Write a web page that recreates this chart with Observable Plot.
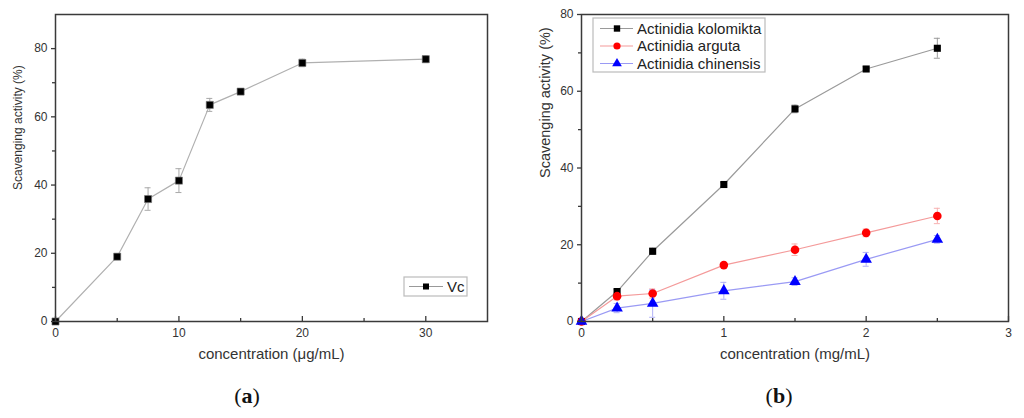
<!DOCTYPE html>
<html>
<head>
<meta charset="utf-8">
<script src="https://cdn.jsdelivr.net/npm/d3@7"></script>
<script src="https://cdn.jsdelivr.net/npm/@observablehq/plot@0.6"></script>
<style>
  html, body { margin: 0; padding: 0; background: #fff; }
  #wrap { position: relative; width: 1024px; height: 418px; overflow: hidden; font-family: "Liberation Sans", Arial, sans-serif; }
  .panel { position: absolute; top: 0; }
  .cap { position: absolute; top: 383px; width: 60px; margin-left: -30px; text-align: center; font-family: "Liberation Serif", "Times New Roman", serif; font-size: 22px; color: #111; }
  .cap b { font-weight: bold; }
</style>
</head>
<body>
<div id="wrap">
  <div id="pa" class="panel" style="left:0px"></div>
  <div id="pb" class="panel" style="left:512px"></div>
  <div class="cap" style="left:247px">(<b>a</b>)</div>
  <div class="cap" style="left:779px">(<b>b</b>)</div>
</div>
<script>
// ---- Panel (a): Vc ----
const vcConc = [0, 5, 7.5, 10, 12.5, 15, 20, 30];
const vcAct  = [0, 19.0, 35.9, 41.3, 63.5, 67.4, 75.8, 76.9];
const vcErr  = [0, 0.5, 3.3, 3.5, 1.9, 0.6, 1.1, 1.0];
const aXMajor = [0, 10, 20, 30];
const aXMinor = [5, 15, 25];
const aYMajor = [0, 20, 40, 60, 80];
const aYMinor = [10, 30, 50, 70];

// ---- Panel (b): Actinidia extracts ----
const bConc = [0, 0.25, 0.5, 1, 1.5, 2, 2.5];
const kolomikta    = [0, 7.8, 18.3, 35.7, 55.4, 65.8, 71.2];
const kolomiktaErr = [0, 0.6, 0.8, 0.5, 1.0, 0.6, 2.6];
const arguta       = [0, 6.6, 7.3, 14.7, 18.7, 23.1, 27.5];
const argutaErr    = [0, 1.0, 1.2, 0.6, 1.5, 1.0, 2.0];
const chinensis    = [0, 3.5, 4.7, 8.0, 10.4, 16.2, 21.4];
const chinensisErr = [0, 1.2, 3.6, 2.2, 1.0, 1.8, 1.0];
const bXMajor = [0, 1, 2, 3];
const bXMinor = [0.5, 1.5, 2.5];
const bYMajor = [0, 20, 40, 60, 80];
const bYMinor = [10, 30, 50, 70];

const seriesNames = ["Actinidia kolomikta", "Actinidia arguta", "Actinidia chinensis"];
const seriesVals = [kolomikta, arguta, chinensis];
const seriesErrs = [kolomiktaErr, argutaErr, chinensisErr];
const markerColors = ["#000000", "#ff0000", "#0000ff"];
const lineColors = ["#9a9a9a", "#f49a9a", "#9a9af4"];
const errColors = ["#9a9a9a", "#f7b0b0", "#b0b0f7"];
const symbols = ["square", "circle", "triangle"];

const W = 512, H = 375, MT = 14, MB = 54;
const FH = H - MT - MB;
const axisColor = "#3a3a3a";
const textColor = "#333";
const fmt = d => String(d);

function tickMarks(major, minor) {
  return [
    Plot.ruleX(major, {x: d => d, insetTop: FH - 5, stroke: axisColor, strokeWidth: 1.3}),
    Plot.ruleX(minor, {x: d => d, insetTop: FH - 3, stroke: axisColor, strokeWidth: 1.3})
  ];
}

function errorMarks(rows, color) {
  const r = rows.filter(d => d.e > 0);
  return [
    Plot.ruleX(r, {x: "x", y1: d => d.y - d.e, y2: d => d.y + d.e, stroke: color, strokeWidth: 1}),
    Plot.ruleY(r, {y: d => d.y + d.e, x1: "x", x2: "x", insetLeft: -3, insetRight: -3, stroke: color, strokeWidth: 1}),
    Plot.ruleY(r, {y: d => d.y - d.e, x1: "x", x2: "x", insetLeft: -3, insetRight: -3, stroke: color, strokeWidth: 1})
  ];
}

// Panel a
const aRows = vcConc.map((x, i) => ({x, y: vcAct[i], e: vcErr[i]}));
const plotA = Plot.plot({
  width: W, height: H,
  marginLeft: 55, marginRight: 25, marginTop: MT, marginBottom: MB,
  style: {fontFamily: "'Liberation Sans', Arial, sans-serif", color: textColor, background: "#fff"},
  x: {domain: [0, 35]},
  y: {domain: [0, 90]},
  marks: [
    ...errorMarks(aRows, "#a8a8a8"),
    Plot.line(aRows, {x: "x", y: "y", stroke: "#b0b0b0", strokeWidth: 1.2}),
    Plot.dot(aRows, {x: "x", y: "y", symbol: "square", r: 4, fill: "#000", stroke: "#777", strokeWidth: 0.6}),
    Plot.axisX({ticks: aXMajor, tickFormat: fmt, tickSize: 0, tickPadding: 7, fontSize: 12, label: null}),
    ...tickMarks(aXMajor, aXMinor),
    Plot.axisY({ticks: aYMajor, tickFormat: fmt, tickSize: 4, tickPadding: 4, fontSize: 12, label: null, stroke: axisColor, strokeWidth: 1.3}),
    Plot.axisY({ticks: aYMinor, tickSize: 3, tickFormat: () => "", label: null, stroke: axisColor, strokeWidth: 1.3}),
    Plot.frame({stroke: axisColor, strokeWidth: 1.5}),
    Plot.text(["concentration (μg/mL)"], {frameAnchor: "bottom", dy: 37, text: d => d, fontSize: 15, fill: textColor}),
    Plot.text(["Scavenging activity (%)"], {frameAnchor: "left", dx: -37, dy: 22, rotate: -90, text: d => d, fontSize: 12, fill: textColor})
  ]
});
document.getElementById("pa").appendChild(plotA);

// Panel b
const bRows = seriesNames.map((name, s) => bConc.map((x, i) => ({name, s, x, y: seriesVals[s][i], e: seriesErrs[s][i]})));
const bMarks = [];
bRows.forEach((rows, s) => { bMarks.push(...errorMarks(rows, errColors[s])); });
bRows.forEach((rows, s) => { bMarks.push(Plot.line(rows, {x: "x", y: "y", stroke: lineColors[s], strokeWidth: 1.2})); });
bRows.forEach((rows, s) => {
  bMarks.push(Plot.dot(rows, {x: "x", y: "y", symbol: symbols[s], r: s === 0 ? 4 : 4.3, fill: markerColors[s], stroke: "none"}));
});
const plotB = Plot.plot({
  width: W, height: H,
  marginLeft: 69, marginRight: 16, marginTop: MT, marginBottom: MB,
  style: {fontFamily: "'Liberation Sans', Arial, sans-serif", color: textColor, background: "#fff"},
  x: {domain: [0, 3]},
  y: {domain: [0, 80]},
  marks: [
    ...bMarks,
    Plot.axisX({ticks: bXMajor, tickFormat: fmt, tickSize: 0, tickPadding: 7, fontSize: 12, label: null}),
    ...tickMarks(bXMajor, bXMinor),
    Plot.axisY({ticks: bYMajor, tickFormat: fmt, tickSize: 4, tickPadding: 4, fontSize: 12, label: null, stroke: axisColor, strokeWidth: 1.3}),
    Plot.axisY({ticks: bYMinor, tickSize: 3, tickFormat: () => "", label: null, stroke: axisColor, strokeWidth: 1.3}),
    Plot.frame({stroke: axisColor, strokeWidth: 1.5}),
    Plot.text(["concentration (mg/mL)"], {frameAnchor: "bottom", dy: 37, text: d => d, fontSize: 15, fill: textColor}),
    Plot.text(["Scavenging activity (%)"], {frameAnchor: "left", dx: -36, dy: 10, rotate: -90, text: d => d, fontSize: 14.5, fill: textColor})
  ]
});
document.getElementById("pb").appendChild(plotB);

// Legends (drawn into the SVGs)
function legend(svgEl, box, items) {
  const g = d3.select(svgEl).append("g").attr("text-anchor", "start");
  g.append("rect").attr("x", box.x).attr("y", box.y).attr("width", box.w).attr("height", box.h)
    .attr("fill", "#fff").attr("stroke", "#bbb").attr("stroke-width", 1.2);
  items.forEach((it, i) => {
    const cy = box.y + box.first + i * box.step;
    g.append("line").attr("x1", box.lx1).attr("x2", box.lx2).attr("y1", cy).attr("y2", cy)
      .attr("stroke", it.line).attr("stroke-width", 1.2);
    const sym = {square: d3.symbolSquare, circle: d3.symbolCircle, triangle: d3.symbolTriangle}[it.symbol];
    g.append("path").attr("d", d3.symbol(sym, Math.PI * it.r * it.r)())
      .attr("transform", `translate(${box.mx},${cy})`).attr("fill", it.fill);
    g.append("text").attr("x", box.tx).attr("y", cy).attr("dy", "0.35em").attr("text-anchor", "start")
      .attr("font-size", 15).attr("fill", "#222").text(it.label);
  });
}
legend(plotA, {x: 404, y: 277, w: 63, h: 19, first: 9.5, step: 0, lx1: 409, lx2: 443, mx: 426, tx: 447},
  [{label: "Vc", line: "#999", fill: "#000", symbol: "square", r: 3.4}]);
legend(plotB, {x: 81, y: 18, w: 172, h: 54, first: 10.5, step: 17.5, lx1: 88, lx2: 121, mx: 105, tx: 125},
  seriesNames.map((n, s) => ({label: n, line: lineColors[s], fill: markerColors[s], symbol: symbols[s], r: 3.6})));
</script>
</body>
</html>
